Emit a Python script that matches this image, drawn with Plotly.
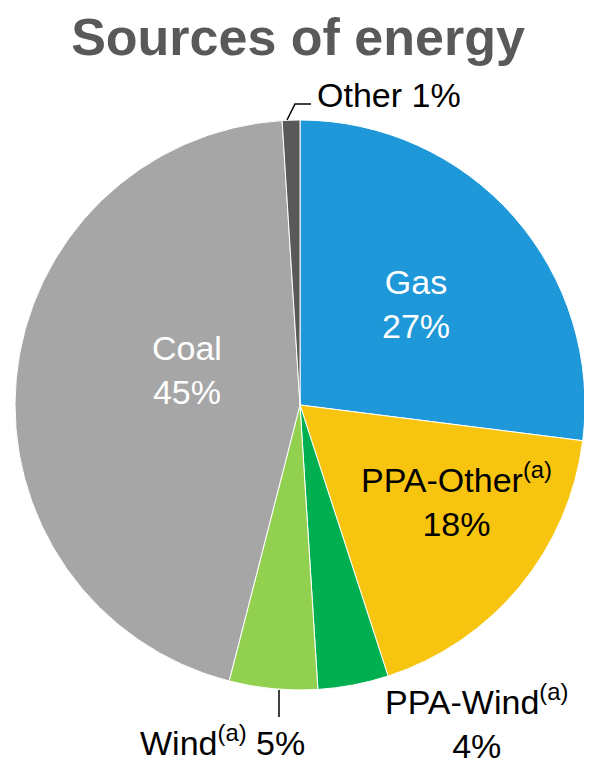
import plotly.graph_objects as go

# Sources of energy (share, %)
sources = ["Gas", "PPA-Other<sup>(a)</sup>", "PPA-Wind<sup>(a)</sup>",
           "Wind<sup>(a)</sup>", "Coal", "Other"]
shares = [27, 18, 4, 5, 45, 1]
colors = ["#1f98d9", "#f7c50f", "#00b050", "#92d050", "#a6a6a6", "#595959"]

W, H, OFF = 592, 759, 8  # page body adds an 8px offset


def px(x):
    return (x - OFF) / W


def py(y):
    return 1 - (y - OFF) / H


fig = go.Figure()

fig.add_trace(go.Pie(
    labels=sources,
    values=shares,
    sort=False,
    direction="clockwise",
    rotation=0,
    textinfo="none",
    hoverinfo="label+percent",
    marker=dict(colors=colors, line=dict(color="white", width=1)),
    domain=dict(x=[px(15), px(585)], y=[py(690), py(120)]),
    showlegend=False,
))

lbl = dict(family="Liberation Sans, Arial, sans-serif", size=34)

# labels (position, colour)
label_pos = [
    (416, 304, "white", "{n}<br>{v}%"),
    (456, 499, "black", "{n}<br>{v}%"),
    (476, 721, "black", "{n}<br>{v}%"),
    (222, 740, "black", "{n} {v}%"),
    (187, 370, "white", "{n}<br>{v}%"),
    (389, 95, "black", "{n} {v}%"),
]
for name, val, (x, y, c, fmt) in zip(sources, shares, label_pos):
    fig.add_annotation(
        x=px(x), y=py(y), xref="paper", yref="paper",
        xanchor="center", yanchor="middle",
        text=fmt.format(n=name, v=val), showarrow=False,
        font=dict(lbl, color=c), align="center",
    )

# leader lines
fig.add_shape(type="line", xref="paper", yref="paper",
              x0=px(279), x1=px(279), y0=py(690), y1=py(717),
              line=dict(color="black", width=1.5))
fig.add_shape(type="path", xref="paper", yref="paper",
              path=f"M {px(287)} {py(120)} L {px(295)} {py(104)} L {px(311)} {py(104)}",
              line=dict(color="black", width=1.5))

fig.update_layout(
    width=W,
    height=H,
    margin=dict(l=0, r=0, t=0, b=0),
    paper_bgcolor="white",
    title=dict(
        text="<b>Sources of energy</b>",
        x=px(298), xanchor="center",
        y=py(37), yanchor="middle",
        font=dict(family="Liberation Sans, Arial, sans-serif", size=52, color="#595959"),
    ),
)

fig.write_html("out.html")
